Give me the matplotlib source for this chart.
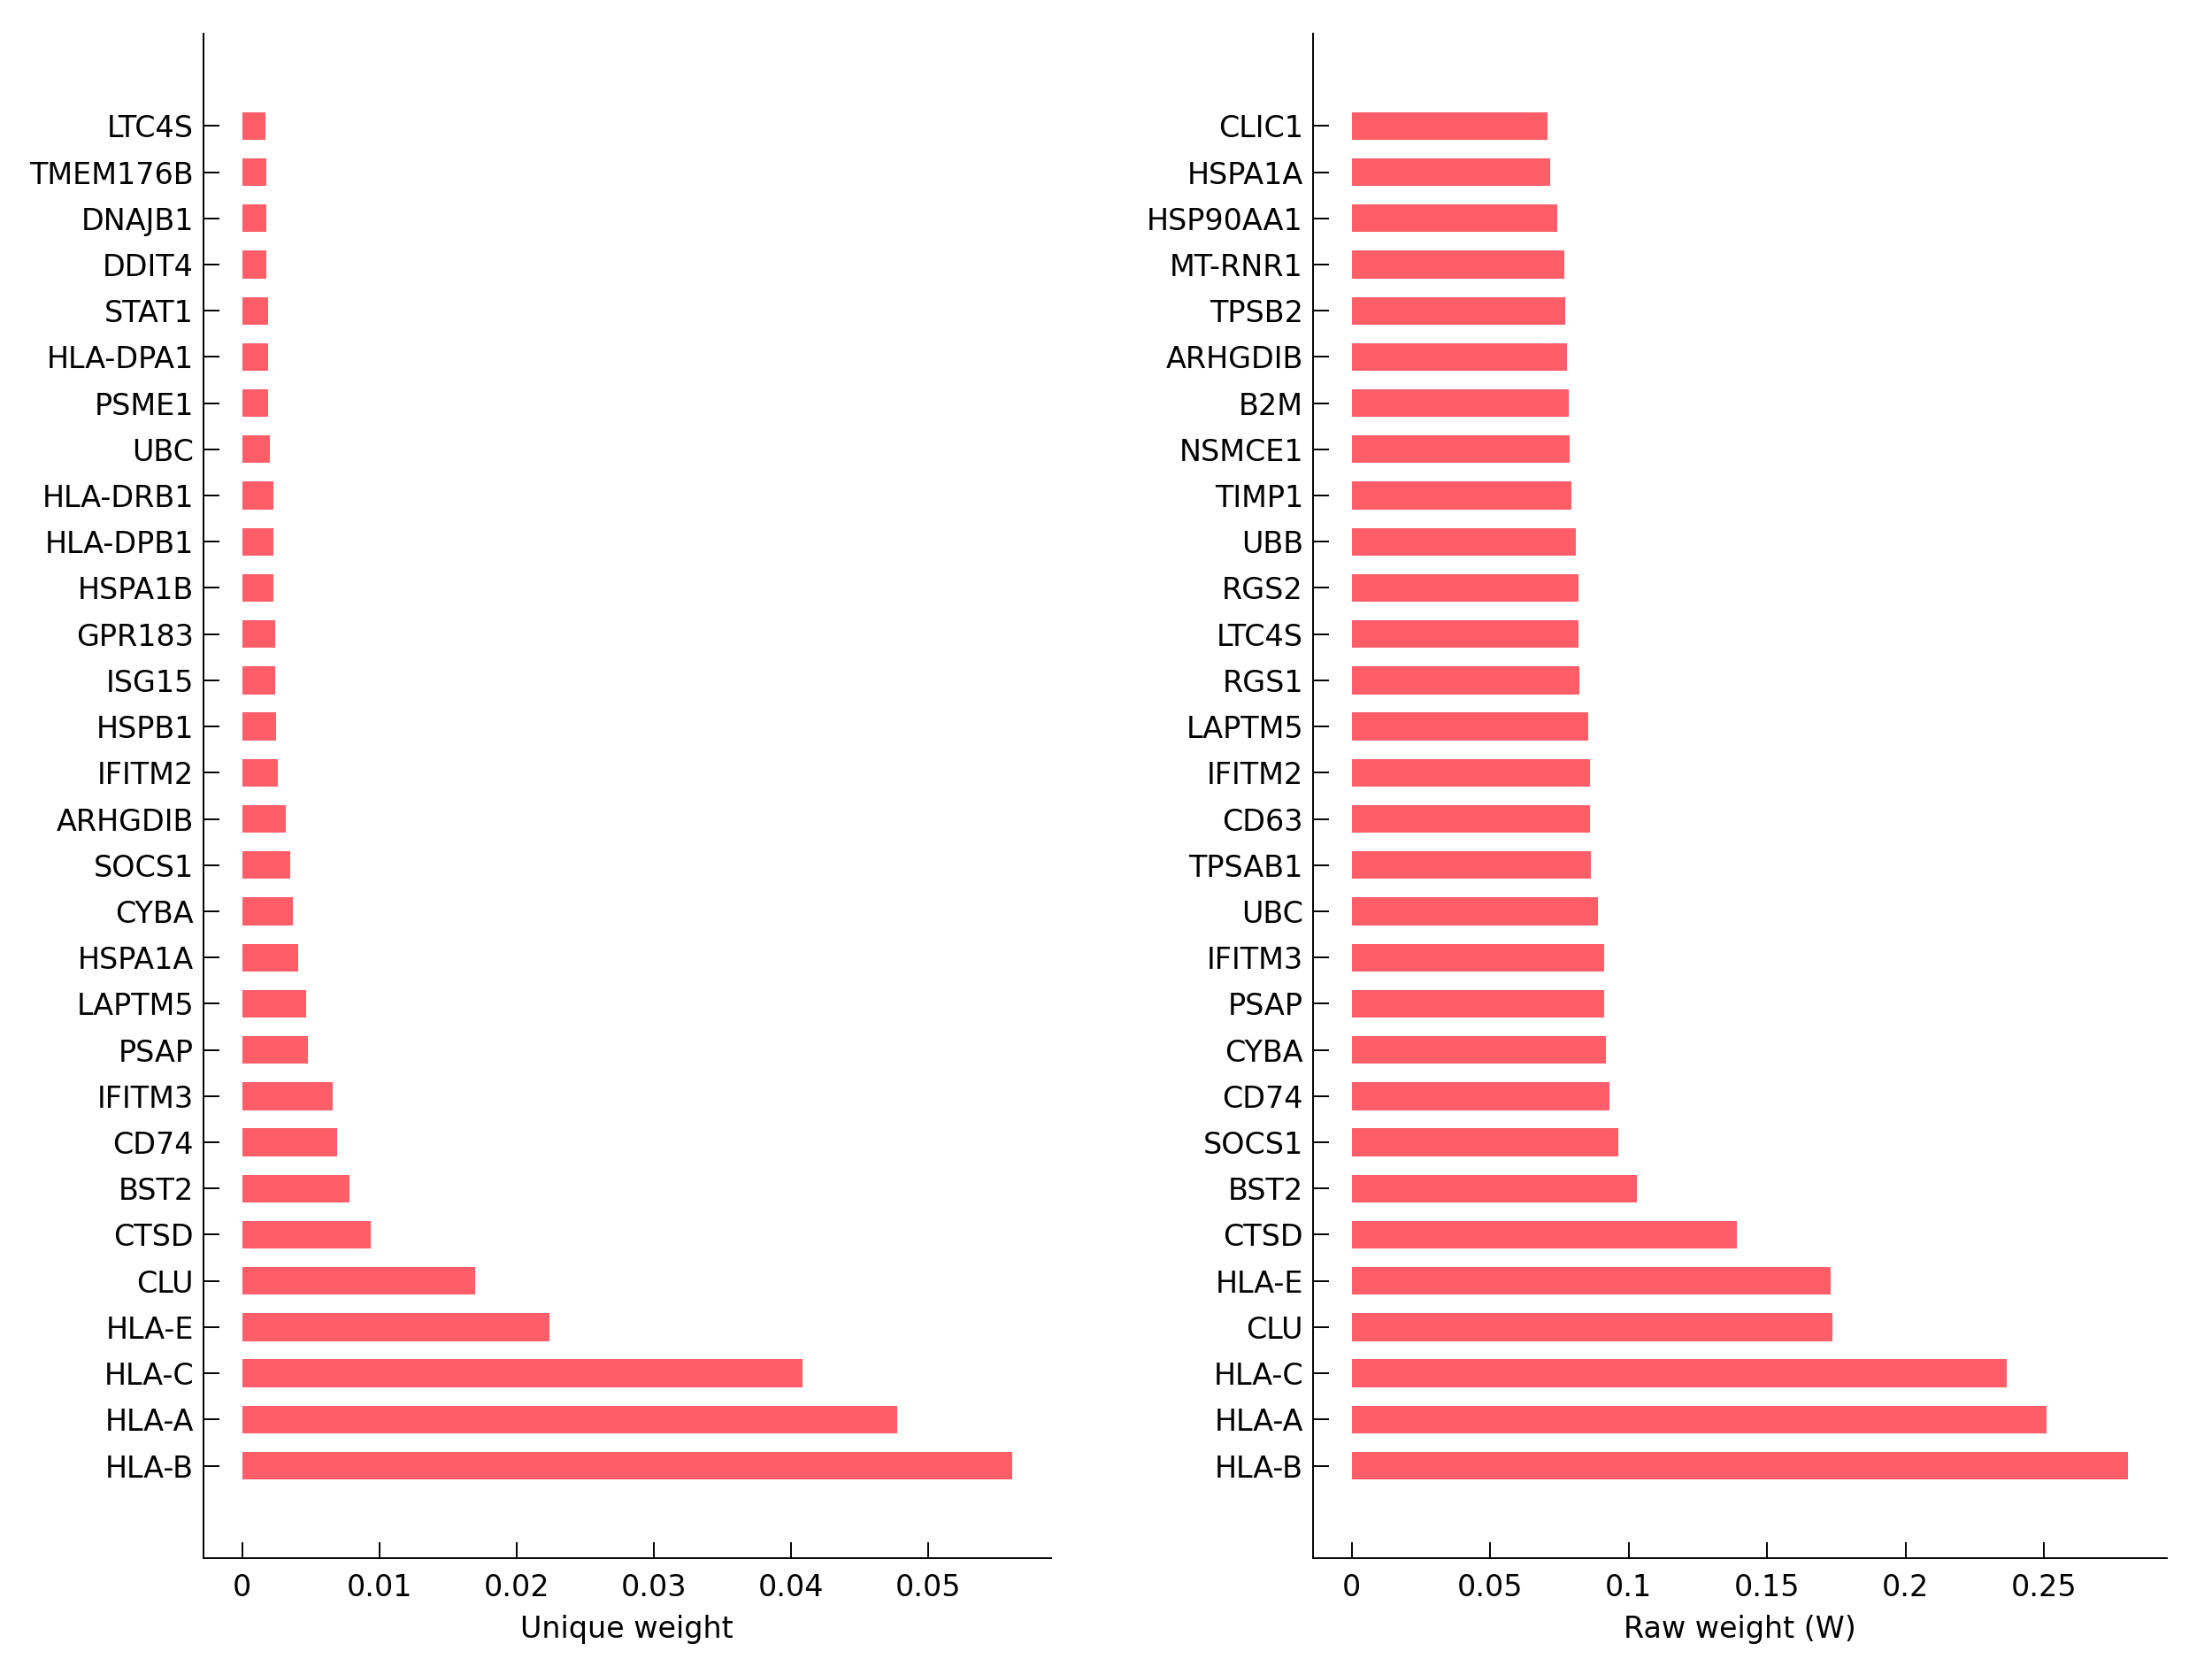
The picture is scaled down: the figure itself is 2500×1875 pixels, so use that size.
import matplotlib
matplotlib.use("Agg")
from matplotlib import pyplot as plt
import numpy as np

# левая панель: уникальный вес (снизу вверх)
genes_unique = ["HLA-B", "HLA-A", "HLA-C", "HLA-E", "CLU", "CTSD", "BST2", "CD74",
                "IFITM3", "PSAP", "LAPTM5", "HSPA1A", "CYBA", "SOCS1", "ARHGDIB",
                "IFITM2", "HSPB1", "ISG15", "GPR183", "HSPA1B", "HLA-DPB1", "HLA-DRB1",
                "UBC", "PSME1", "HLA-DPA1", "STAT1", "DDIT4", "DNAJB1", "TMEM176B", "LTC4S"]
unique_weight = [0.0561, 0.0477, 0.0408, 0.0224, 0.0170, 0.0094, 0.0078, 0.0069,
                 0.0066, 0.0048, 0.0047, 0.0041, 0.0037, 0.0035, 0.0032,
                 0.0026, 0.0025, 0.0024, 0.0024, 0.0023, 0.0023, 0.0023,
                 0.0020, 0.0019, 0.0019, 0.0019, 0.0018, 0.0018, 0.0018, 0.0017]

# правая панель: сырой вес W
genes_raw = ["HLA-B", "HLA-A", "HLA-C", "CLU", "HLA-E", "CTSD", "BST2", "SOCS1",
             "CD74", "CYBA", "PSAP", "IFITM3", "UBC", "TPSAB1", "CD63", "IFITM2",
             "LAPTM5", "RGS1", "LTC4S", "RGS2", "UBB", "TIMP1", "NSMCE1", "B2M",
             "ARHGDIB", "TPSB2", "MT-RNR1", "HSP90AA1", "HSPA1A", "CLIC1"]
raw_weight = [0.2803, 0.2510, 0.2366, 0.1734, 0.1728, 0.1389, 0.1029, 0.0962,
              0.0931, 0.0916, 0.0910, 0.0910, 0.0890, 0.0864, 0.0859, 0.0859,
              0.0854, 0.0823, 0.0818, 0.0818, 0.0808, 0.0792, 0.0787, 0.0782,
              0.0777, 0.0772, 0.0766, 0.0741, 0.0715, 0.0705]

ticks_unique = [0, 0.01, 0.02, 0.03, 0.04, 0.05]
ticks_raw = [0, 0.05, 0.1, 0.15, 0.2, 0.25]

bar_color = "#ff5e69"
plt.rcParams['font.family'] = ['DejaVu Sans']
plt.rcParams['font.size'] = 12

fig = plt.figure(figsize=(12.5, 9.375), dpi=200)
ax1 = fig.add_axes([0.092, 0.0608, 0.383, 0.919])
ax2 = fig.add_axes([0.5936, 0.0608, 0.386, 0.919])


def panel(ax, genes, vals, ticks, xlabel):
    y = np.arange(len(genes))
    ax.barh(y, vals, height=0.6, color=bar_color)
    m = max(vals)
    ax.set_xlim(-0.05 * m, 1.05 * m)
    ax.set_ylim(-2, len(genes) + 1)
    ax.set_yticks(y)
    ax.set_yticklabels(genes)
    ax.set_xticks(ticks)
    ax.set_xticklabels([("%g" % t) for t in ticks])
    ax.set_xlabel(xlabel, labelpad=5)
    ax.spines['top'].set_visible(False)
    ax.spines['right'].set_visible(False)
    for s in ['left', 'bottom']:
        ax.spines[s].set_linewidth(0.7)
    ax.tick_params(direction='in', length=6.5, width=0.7)
    ax.tick_params(axis='x', pad=6)
    ax.tick_params(axis='y', pad=4)


panel(ax1, genes_unique, unique_weight, ticks_unique, "Unique weight")
panel(ax2, genes_raw, raw_weight, ticks_raw, "Raw weight (W)")

fig.savefig("out.png", dpi=200)
